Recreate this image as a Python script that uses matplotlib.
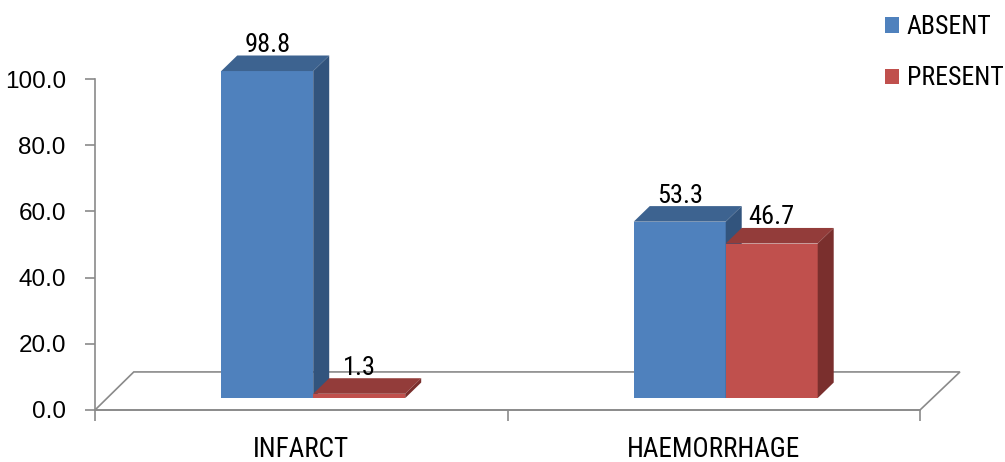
import matplotlib
matplotlib.use("Agg")
import matplotlib.pyplot as plt
from matplotlib.patches import Polygon, Patch

# Data
categories = ["INFARCT", "HAEMORRHAGE"]
series_names = ["ABSENT", "PRESENT"]
absent = [98.8, 53.3]
present = [1.3, 46.7]
y_ticks = [0, 20, 40, 60, 80, 100]

# Colours: front, top, side faces
face_colors = {
    "ABSENT": ("#4F81BD", "#3D6390", "#32547D"),
    "PRESENT": ("#C0504D", "#933C3A", "#7A2F2D"),
}
grid_grey = "#8A8A8A"

regular = ["Liberation Sans", "DejaVu Sans"]
narrow = ["Roboto Condensed", "Liberation Sans Narrow", "Liberation Sans", "DejaVu Sans"]

W, H, DPI = 1005, 462, 100
fig = plt.figure(figsize=(W / DPI, H / DPI), dpi=DPI)
fig.patch.set_facecolor("white")
ax = fig.add_axes([95 / W, (H - 410) / H, 825 / W, 331 / H])
ax.set_xlim(0, 2)
ax.set_ylim(0, 100)
ax.set_facecolor("none")

# 3-D styling parameters (in data units)
bar_width = 0.223
group_offset = 0.306
depth_dx = 0.0388
depth_dy = 4.7
bar_base = 3.6
floor_dx = 0.094
floor_dy = 11.5

# Floor (parallelogram behind the bars)
floor = Polygon([(0, 0), (2, 0), (2 + floor_dx * 1.03, floor_dy), (floor_dx, floor_dy)],
                closed=True, facecolor="none", edgecolor=grid_grey, lw=1.2,
                clip_on=False, zorder=1)
ax.add_patch(floor)


def draw_bar(x0, value, name):
    front, top, side = face_colors[name]
    b = bar_base
    t = b + value
    ax.add_patch(Polygon([(x0, b), (x0 + bar_width, b), (x0 + bar_width, t), (x0, t)],
                         closed=True, facecolor=front, edgecolor="none",
                         clip_on=False, zorder=3))
    ax.add_patch(Polygon([(x0, t), (x0 + bar_width, t),
                          (x0 + bar_width + depth_dx, t + depth_dy), (x0 + depth_dx, t + depth_dy)],
                         closed=True, facecolor=top, edgecolor="none",
                         clip_on=False, zorder=3))
    ax.add_patch(Polygon([(x0 + bar_width, b), (x0 + bar_width + depth_dx, b + depth_dy),
                          (x0 + bar_width + depth_dx, t + depth_dy), (x0 + bar_width, t)],
                         closed=True, facecolor=side, edgecolor="none",
                         clip_on=False, zorder=3))
    ax.annotate(f"{value:.1f}", xy=(x0 + bar_width / 2, t + depth_dy),
                xytext=(0, 2.5), textcoords="offset points", ha="center", va="baseline",
                fontsize=19, family=narrow, color="black", zorder=5,
                annotation_clip=False)


for i, cat in enumerate(categories):
    x_left = i + group_offset
    draw_bar(x_left, absent[i], "ABSENT")
    draw_bar(x_left + bar_width, present[i], "PRESENT")

# Axes styling
for s in ["top", "right"]:
    ax.spines[s].set_visible(False)
for s in ["left", "bottom"]:
    ax.spines[s].set_color(grid_grey)
    ax.spines[s].set_linewidth(1.2)

ax.set_yticks(y_ticks)
ax.set_yticklabels([f"{v:.1f}" for v in y_ticks], fontsize=17.5, family=regular)
ax.tick_params(axis="y", length=7, width=1.2, color=grid_grey, pad=14)

ax.set_xticks([0, 1, 2])
ax.set_xticklabels([])
ax.set_xticks([0.5, 1.5], minor=True)
ax.set_xticklabels(categories, minor=True, fontsize=19.5, family=narrow)
ax.tick_params(axis="x", which="major", length=8, width=1.2, color=grid_grey,
               direction="out")
ax.tick_params(axis="x", which="minor", length=0, pad=19)

# Legend
handles = [Patch(facecolor=face_colors[n][0], edgecolor="none") for n in series_names]
fig.legend(handles, series_names, loc="upper left",
           bbox_to_anchor=(885 / W, 1 - 15 / H), frameon=False,
           prop={"family": narrow, "size": 18.5},
           handlelength=0.55, handleheight=0.55, handletextpad=0.3,
           labelspacing=1.07, borderpad=0, borderaxespad=0)

fig.savefig("out.png", dpi=DPI, facecolor="white")
